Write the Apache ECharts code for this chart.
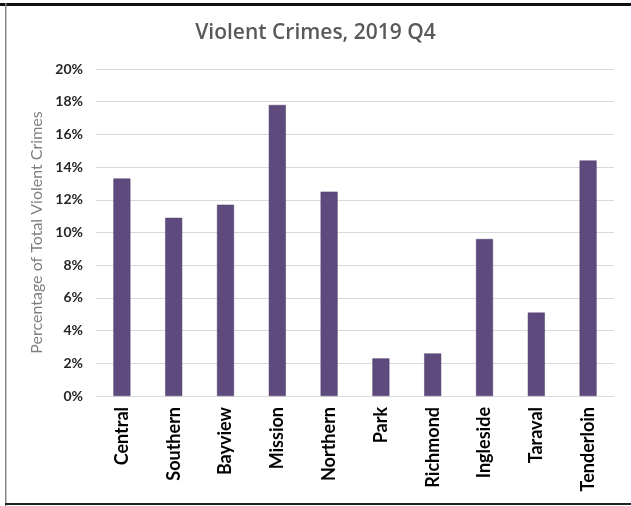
<!DOCTYPE html>
<html><head><meta charset="utf-8">
<script src="https://cdn.jsdelivr.net/npm/echarts@6/dist/echarts.min.js"></script>
<style>html,body{margin:0;padding:0;background:#fff}#c{width:631px;height:506px}</style>
</head><body><div id="c"></div>
<script>
const categories = ['Central','Southern','Bayview','Mission','Northern','Park','Richmond','Ingleside','Taraval','Tenderloin'];
const values = [13.3, 10.9, 11.7, 17.8, 12.5, 2.3, 2.6, 9.6, 5.1, 14.4];
const chart = echarts.init(document.getElementById('c'));
chart.setOption({
  animation:false,
  title:{text:'Violent Crimes, 2019 Q4',left:'center',top:18,textStyle:{fontFamily:'Open Sans',fontWeight:600,fontSize:21,color:'#595959'}},
  grid:{left:96,right:17,top:69,bottom:110},
  xAxis:{type:'category',data:categories,
    axisLine:{lineStyle:{color:'#d9d9d9',width:1}},axisTick:{show:false},
    axisLabel:{rotate:90,margin:11,fontFamily:'Lato',fontWeight:'bold',fontSize:18,color:'#000'}},
  yAxis:{type:'value',min:0,max:20,interval:2,
    name:'Percentage of Total Violent Crimes',nameLocation:'middle',nameGap:49,
    nameTextStyle:{fontFamily:'Lato',fontSize:16,color:'#7f7f7f'},
    axisLabel:{formatter:'{value}%',fontFamily:'Lato',fontWeight:'bold',fontSize:14,color:'#262626',margin:13},
    splitLine:{lineStyle:{color:'#d9d9d9',width:1}},axisLine:{show:false},axisTick:{show:false}},
  series:[{type:'bar',data:values,barWidth:17,itemStyle:{color:'#5e4a7c',borderColor:'#4f3d6b',borderWidth:0.5}}],
  graphic:[
    {type:'rect',shape:{x:0,y:3,width:631,height:3},style:{fill:'#111'}},
    {type:'rect',shape:{x:5,y:3,width:1.5,height:503},style:{fill:'#888'}},
    {type:'rect',shape:{x:5,y:503,width:626,height:2},style:{fill:'#222'}}
  ]
});
</script></body></html>
